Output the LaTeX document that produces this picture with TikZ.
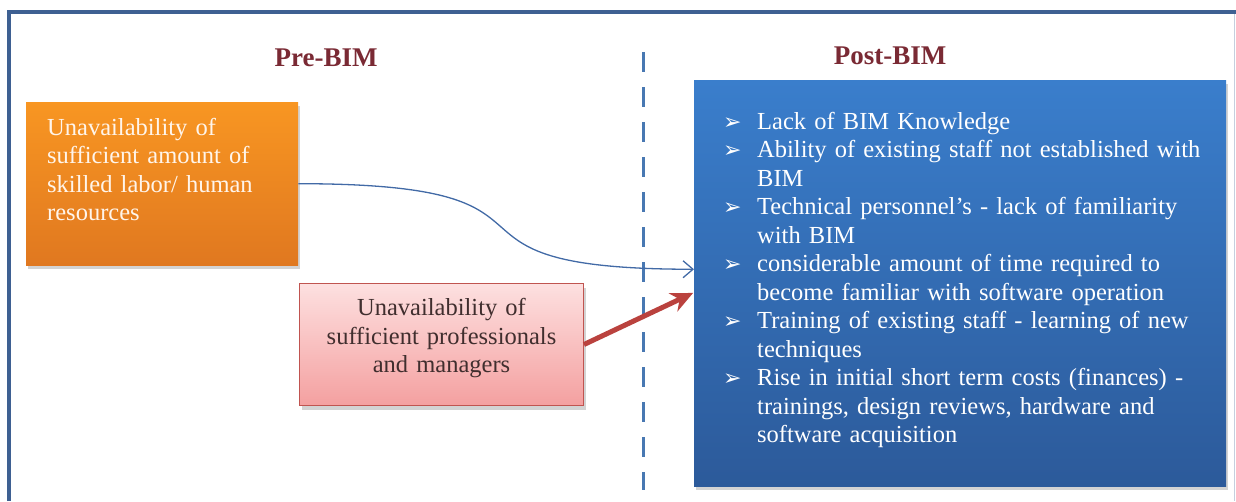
\documentclass[tikz,border=0pt]{standalone}
\usepackage{fontspec}
\setmainfont{Liberation Serif}
\newfontfamily\dingfont{DejaVu Sans}
\usepackage{tikz}
\usetikzlibrary{arrows.meta,positioning,shadows}

\definecolor{titlered}{RGB}{122,42,52}
\definecolor{frameblue}{RGB}{62,96,146}
\definecolor{orangetop}{RGB}{248,150,34}
\definecolor{orangebot}{RGB}{224,120,32}
\definecolor{pinktop}{RGB}{253,224,224}
\definecolor{pinkbot}{RGB}{244,160,160}
\definecolor{pinkline}{RGB}{192,84,80}
\definecolor{pinktext}{RGB}{64,46,46}
\definecolor{bimtop}{RGB}{58,126,204}
\definecolor{bimbot}{RGB}{44,90,154}
\definecolor{curveblue}{RGB}{66,106,166}
\definecolor{dashblue}{RGB}{72,120,178}
\definecolor{arrowred}{RGB}{186,66,62}

\newcommand{\bimbul}{{\dingfont\fontsize{22}{22}\selectfont ➢}}

\begin{document}
\begin{tikzpicture}[x=1pt,y=-1pt,node font=\fontsize{24.5}{28.5}\selectfont]
	\tikzset{title/.style={text=titlered,font=\fontsize{27}{30}\selectfont\bfseries},
		boxshadow/.style={drop shadow={shadow xshift=2pt,shadow yshift=-4pt,opacity=.35}},
		every box/.style={rectangle,anchor=north west,text height=17pt,boxshadow}}

	\useasboundingbox (0,0) rectangle (1236,501);
	% frame
	\draw[frameblue,line width=4pt] (9,501) -- (9,12) -- (1236,12);
	\draw[frameblue!30,line width=1pt] (1234,14) -- (1234,501);

	\node[title] (PRET)  at (326,58) {Pre-BIM};
	\node[title] (POSTT) at (890,56) {Post-BIM};

	\node[every box,top color=orangetop,bottom color=orangebot,text=white!92!orange,
		text width=230pt,inner xsep=21pt,inner ysep=16pt,text depth=114pt,align=left]
		(SKL) at (26,102) {Unavailability of\\sufficient amount of\\skilled labor/ human\\resources};
	\node[every box,top color=pinktop,bottom color=pinkbot,draw=pinkline,line width=1pt,text=pinktext,
		text width=254pt,inner xsep=15pt,inner ysep=15pt,text depth=75pt,align=center]
		(PRO) at (299,283) {Unavailability of\\sufficient professionals\\and managers};
	\node[every box,top color=bimtop,bottom color=bimbot,text=white,
		text width=474pt,inner xsep=29pt,inner ysep=29pt,text height=20pt,text depth=328pt]
		(BIM) at (694,80) {\begin{tabular}[t]{@{}p{34pt}@{}l@{}}
			\bimbul & Lack of BIM Knowledge\\
			\bimbul & Ability of existing staff not established with\\
			        & BIM\\
			\bimbul & Technical personnel’s - lack of familiarity\\
			        & with BIM\\
			\bimbul & considerable amount of time required to\\
			        & become familiar with software operation\\
			\bimbul & Training of existing staff - learning of new\\
			        & techniques\\
			\bimbul & Rise in initial short term costs (finances) -\\
			        & trainings, design reviews, hardware and\\
			        & software acquisition
		\end{tabular}};

	% divider
	\coordinate (DTOP) at (643,52);
	\coordinate (DBOT) at (643,490);
	\draw[dashblue,line width=3pt,dash pattern=on 20pt off 15pt] (DTOP) -- (DBOT);

	\draw[curveblue,line width=1.3pt,-{Straight Barb[length=10pt,width=17pt]}]
		(SKL.east) .. controls +(303,0) and +(-291,0) .. (BIM.177.6);
	\path[-{Stealth[length=22pt,width=20pt]}]
		(PRO.east) edge [arrowred,line width=5pt,shorten >=1pt] (BIM.182.6);
\end{tikzpicture}
\end{document}
